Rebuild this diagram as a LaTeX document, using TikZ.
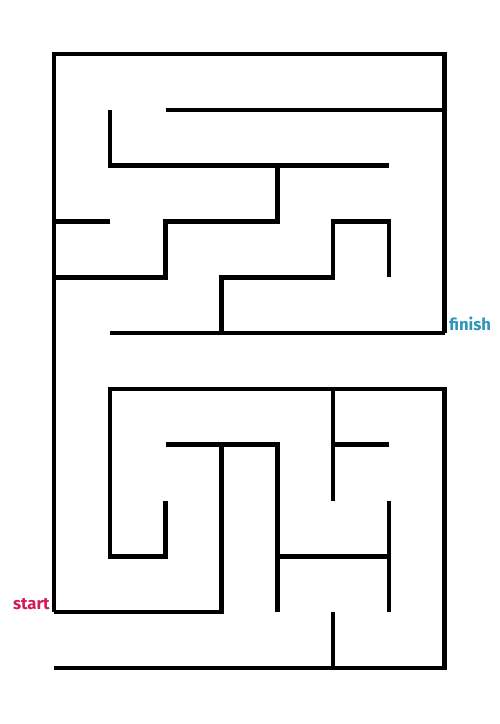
\documentclass[tikz,border=0pt]{standalone}
\usepackage{fontspec}
\setsansfont{Fira Sans}
\usepackage{tikz}
\usetikzlibrary{positioning}
\definecolor{finishteal}{RGB}{46,150,182}
\definecolor{startred}{RGB}{206,28,84}

\begin{document}
\begin{tikzpicture}[
    wall/.style={draw=black, line width=2.6pt},
    label/.style={font=\sffamily\bfseries\fontsize{9.5}{11}\selectfont, inner sep=0pt}
]
\useasboundingbox (0,0) rectangle (10,14.48);

\begin{scope}[shift={(1.08,13.4)}, x=1.1164cm, y=-1.1164cm]

% Outer walls
\draw[wall] (7,5) -- (7,0) -- (0,0) -- (0,10);
\draw[wall] (0,11) -- (7,11) -- (7,6) -- (1,6) -- (1,9) -- (2,9) -- (2,8);

% Upper half
\draw[wall] (2,1) -- (7,1);
\draw[wall] (1,1) -- (1,2) -- (6,2);
\draw[wall] (4,2) -- (4,3) -- (2,3) -- (2,4) -- (0,4);
\draw[wall] (0,3) -- (1,3);
\draw[wall] (6,4) -- (6,3) -- (5,3) -- (5,4) -- (3,4) -- (3,5);
\draw[wall] (1,5) -- (7,5);

% Lower half
\draw[wall] (5,6) -- (5,8);
\draw[wall] (5,7) -- (6,7);
\draw[wall] (2,7) -- (4,7) -- (4,10);
\draw[wall] (3,7) -- (3,10) -- (0,10);
\draw[wall] (4,9) -- (6,9);
\draw[wall] (6,8) -- (6,10);
\draw[wall] (5,10) -- (5,11);

% Labels
\coordinate (exit) at (7,5);
\coordinate (entry) at (0,10);
\node[label, text=finishteal, anchor=base west, xshift=0.08cm, yshift=0.06cm] (finish) at (exit) {finish};
\node[label, text=startred, anchor=base east, xshift=-0.08cm, yshift=0.06cm] (start) at (entry) {start};

\end{scope}
\end{tikzpicture}
\end{document}
